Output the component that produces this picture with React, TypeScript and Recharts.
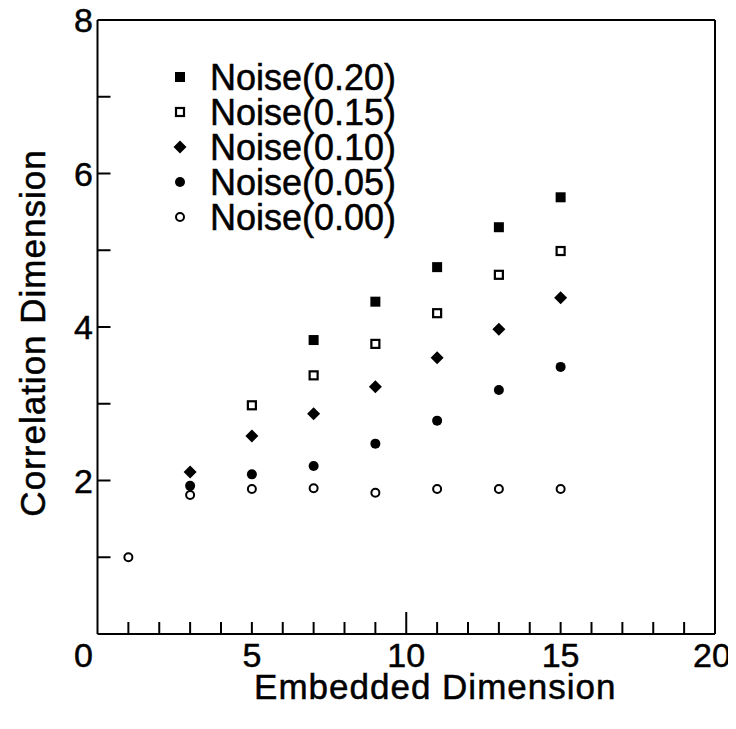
import React from 'react';
import { ScatterChart, Scatter, XAxis, YAxis, Legend, Label } from 'recharts';

// ---- data ----
const noise020X = [7, 9, 11, 13, 15];
const noise020Y = [3.83, 4.33, 4.78, 5.3, 5.69];
const noise015X = [5, 7, 9, 11, 13, 15];
const noise015Y = [2.98, 3.37, 3.78, 4.18, 4.68, 4.99];
const noise010X = [3, 5, 7, 9, 11, 13, 15];
const noise010Y = [2.11, 2.58, 2.87, 3.22, 3.6, 3.97, 4.38];
const noise005X = [3, 5, 7, 9, 11, 13, 15];
const noise005Y = [1.93, 2.08, 2.19, 2.48, 2.78, 3.18, 3.48];
const noise000X = [1, 3, 5, 7, 9, 11, 13, 15];
const noise000Y = [1.0, 1.81, 1.89, 1.9, 1.84, 1.89, 1.89, 1.89];

const xTicks = [0, 1, 2, 3, 4, 5, 6, 7, 8, 9, 10, 11, 12, 13, 14, 15, 16, 17, 18, 19, 20];
const xLabels = [0, 5, 10, 15, 20];
const yTicks = [0, 1, 2, 3, 4, 5, 6, 7, 8];
const yLabels = [2, 4, 6, 8];

const xTitle = 'Embedded Dimension';
const yTitle = 'Correlation Dimension';

const FONT = '"Liberation Sans", Arial, Helvetica, sans-serif';

const toPoints = (xs: number[], ys: number[]) => xs.map((x, i) => ({ x, y: ys[i] }));

// ---- marker shapes ----
const FilledSquare = (p: any) => (
  <rect x={p.cx - 5} y={p.cy - 5} width={10} height={10} fill="#000" />
);
const OpenSquare = (p: any) => (
  <rect x={p.cx - 4} y={p.cy - 4} width={8} height={8} fill="#fff" stroke="#000" strokeWidth={2.2} />
);
const Diamond = (p: any) => (
  <polygon
    points={`${p.cx},${p.cy - 6.5} ${p.cx + 6.5},${p.cy} ${p.cx},${p.cy + 6.5} ${p.cx - 6.5},${p.cy}`}
    fill="#000"
  />
);
const FilledCircle = (p: any) => <circle cx={p.cx} cy={p.cy} r={5} fill="#000" />;
const OpenCircle = (p: any) => (
  <circle cx={p.cx} cy={p.cy} r={4} fill="#fff" stroke="#000" strokeWidth={2} />
);

const series = [
  { name: 'Noise(0.20)', data: toPoints(noise020X, noise020Y), shape: FilledSquare },
  { name: 'Noise(0.15)', data: toPoints(noise015X, noise015Y), shape: OpenSquare },
  { name: 'Noise(0.10)', data: toPoints(noise010X, noise010Y), shape: Diamond },
  { name: 'Noise(0.05)', data: toPoints(noise005X, noise005Y), shape: FilledCircle },
  { name: 'Noise(0.00)', data: toPoints(noise000X, noise000Y), shape: OpenCircle },
];

const txt = { fontFamily: FONT, fill: '#000', stroke: '#000', strokeWidth: 0.5 };

// ---- ticks ----
const BottomTick = (props: any) => {
  const { x, y, payload } = props;
  const v = payload.value;
  const len = v === 10 ? 22 : 12;
  return (
    <g>
      {v > 0 && v < 20 && <line x1={x} x2={x} y1={y} y2={y - len} stroke="#000" strokeWidth={2} />}
      {xLabels.includes(v) && (
        <text x={x + (v === 0 ? -14 : v === 20 ? -3 : 0)} y={y + 33} textAnchor="middle" fontSize={34} {...txt}>
          {v}
        </text>
      )}
    </g>
  );
};
const TopTick = (props: any) => {
  const { x, y, payload } = props;
  const v = payload.value;
  const len = v === 10 ? 22 : 12;
  if (v <= 0 || v >= 20) return <g />;
  return <line x1={x} x2={x} y1={y} y2={y + len} stroke="#000" strokeWidth={2} />;
};
const LeftTick = (props: any) => {
  const { x, y, payload } = props;
  const v = payload.value;
  return (
    <g>
      {v > 0 && v < 8 && <line x1={x} x2={x + 13} y1={y} y2={y} stroke="#000" strokeWidth={2} />}
      {yLabels.includes(v) && (
        <text x={x - 4.5} y={y + 12} textAnchor="end" fontSize={34} {...txt}>
          {v}
        </text>
      )}
    </g>
  );
};
const RightTick = (props: any) => {
  const { x, y, payload } = props;
  const v = payload.value;
  if (v <= 0 || v >= 8) return <g />;
  return <line x1={x} x2={x - 13} y1={y} y2={y} stroke="#000" strokeWidth={2} />;
};

const LegendContent = () => (
  <div style={{ fontFamily: FONT, fontSize: 36, lineHeight: '35px', color: '#000', WebkitTextStroke: '0.5px #000' }}>
    {series.map((s) => {
      const Shape = s.shape;
      return (
        <div key={s.name} style={{ display: 'flex', alignItems: 'center', height: 35, whiteSpace: 'nowrap' }}>
          <svg width={16} height={16} style={{ display: 'block' }}>
            <Shape cx={8} cy={8} />
          </svg>
          <span style={{ marginLeft: 22 }}>{s.name}</span>
        </div>
      );
    })}
  </div>
);

export default function App() {
  return (
    <div style={{ width: 736, height: 715, marginLeft: -8, marginTop: -8, background: '#fff' }}>
      <ScatterChart width={736} height={715} margin={{ top: 19, right: 20, bottom: 21, left: 37.5 }}>
        <XAxis
          xAxisId="b"
          dataKey="x"
          type="number"
          domain={[0, 20]}
          ticks={xTicks}
          interval={0}
          height={60}
          axisLine={{ stroke: '#000', strokeWidth: 2 }}
          tickLine={false}
          tickSize={0}
          tickMargin={0}
          tick={<BottomTick />}
        >
          <Label
            content={(p: any) => {
              const vb = p.viewBox;
              return (
                <text x={vb.x + vb.width / 2 + 29} y={vb.y + 65} textAnchor="middle" fontSize={35} letterSpacing={1} {...txt}>
                  {xTitle}
                </text>
              );
            }}
          />
        </XAxis>
        <XAxis
          xAxisId="t"
          orientation="top"
          type="number"
          domain={[0, 20]}
          ticks={xTicks}
          interval={0}
          height={1}
          axisLine={{ stroke: '#000', strokeWidth: 2 }}
          tickLine={false}
          tickSize={0}
          tickMargin={0}
          tick={<TopTick />}
        />
        <YAxis
          yAxisId="l"
          dataKey="y"
          type="number"
          domain={[0, 8]}
          ticks={yTicks}
          interval={0}
          width={60}
          axisLine={{ stroke: '#000', strokeWidth: 2 }}
          tickLine={false}
          tickSize={0}
          tickMargin={0}
          tick={<LeftTick />}
        >
          <Label
            content={() => {
              const cx = 45;
              const cy = 333;
              return (
                <text x={cx} y={cy} transform={`rotate(-90, ${cx}, ${cy})`} textAnchor="middle" fontSize={35} letterSpacing={1} {...txt}>
                  {yTitle}
                </text>
              );
            }}
          />
        </YAxis>
        <YAxis
          yAxisId="r"
          orientation="right"
          type="number"
          domain={[0, 8]}
          ticks={yTicks}
          interval={0}
          width={1}
          axisLine={{ stroke: '#000', strokeWidth: 2 }}
          tickLine={false}
          tickSize={0}
          tickMargin={0}
          tick={<RightTick />}
        />
        <Legend
          layout="horizontal"
          verticalAlign="middle"
          align="center"
          wrapperStyle={{ position: 'absolute', left: 172, top: 59.5, width: 'auto', height: 'auto' }}
          content={() => <LegendContent />}
        />
        {series.map((s) => (
          <Scatter
            key={s.name}
            name={s.name}
            data={s.data}
            xAxisId="b"
            yAxisId="l"
            shape={s.shape}
            isAnimationActive={false}
          />
        ))}
      </ScatterChart>
    </div>
  );
}
